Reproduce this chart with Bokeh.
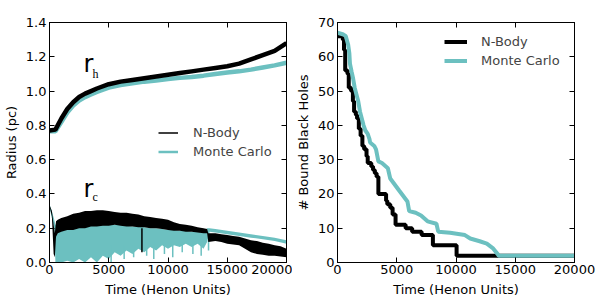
from bokeh.plotting import figure
from bokeh.layouts import row
from bokeh.models import (LinearAxis, FixedTicker, NumeralTickFormatter, Legend,
                          LegendItem, Label, Range1d, CustomJSTickFormatter)
from bokeh.embed import file_html
from bokeh.resources import INLINE

# ---------------- data: left panel (radii) ----------------
# half-mass radius r_h
rh_time = [0, 500, 1000, 1500, 2000, 2500, 3000, 3500, 4000, 5000, 6000, 7000, 8000,
           9000, 10000, 11000, 12000, 13000, 14000, 15000, 16000, 17000, 18000, 19000, 20000]
rh_nbody = [0.77, 0.775, 0.84, 0.895, 0.935, 0.965, 0.985, 1.0, 1.015, 1.04, 1.055, 1.065,
            1.075, 1.085, 1.095, 1.105, 1.115, 1.125, 1.135, 1.145, 1.16, 1.185, 1.21, 1.235, 1.28]
rh_mc = [0.765, 0.765, 0.82, 0.875, 0.915, 0.945, 0.965, 0.98, 0.995, 1.02, 1.035, 1.045,
         1.055, 1.062, 1.07, 1.077, 1.082, 1.09, 1.10, 1.108, 1.115, 1.125, 1.138, 1.15, 1.165]

# core radius r_c (noisy: lower / upper envelope of the scatter)
rc_nb_time = [0, 200, 350, 450, 550, 700, 1000, 1500, 2000, 2500, 3000, 3500, 4000, 4500,
              5000, 5500, 6000, 6500, 7000, 7500, 8000, 8500, 9000, 9500, 10000, 10500,
              11000, 11500, 12000, 12500, 13000, 13300, 13400, 14000, 14500, 15000, 15500,
              16000, 16500, 17000, 17500, 18000, 18500, 19000, 19500, 20000]
rc_nb_low = [0.33, 0.27, 0.05, 0.03, 0.15, 0.17, 0.18, 0.19, 0.19, 0.20, 0.20, 0.21, 0.21,
             0.215, 0.215, 0.22, 0.215, 0.21, 0.21, 0.205, 0.205, 0.20, 0.20, 0.195, 0.19,
             0.185, 0.185, 0.18, 0.18, 0.175, 0.17, 0.17, 0.12, 0.125, 0.12, 0.11, 0.105,
             0.10, 0.08, 0.06, 0.05, 0.045, 0.04, 0.04, 0.035, 0.03]
rc_nb_high = [0.335, 0.30, 0.22, 0.17, 0.24, 0.25, 0.26, 0.27, 0.285, 0.29, 0.30, 0.30, 0.305,
              0.305, 0.30, 0.295, 0.29, 0.29, 0.285, 0.28, 0.27, 0.265, 0.26, 0.255, 0.25,
              0.235, 0.225, 0.22, 0.215, 0.205, 0.20, 0.195, 0.17, 0.17, 0.165, 0.16, 0.155,
              0.15, 0.14, 0.13, 0.125, 0.115, 0.11, 0.10, 0.095, 0.08]

rc_mc_time = [0, 200, 400, 500, 1000, 1500, 2000, 2500, 3000, 3500, 4000, 4500, 5000, 5500,
              6000, 6500, 7000, 7500, 8000, 8500, 9000, 9500, 10000, 10500, 11000, 11500,
              12000, 12500, 13000, 13300, 13500, 14000, 15000, 16000, 17000, 18000, 19000, 20000]
rc_mc_low = [0.32, 0.26, 0.20, 0.0, 0.0, 0.01, 0.0, 0.02, 0.0, 0.03, 0.0, 0.04, 0.02, 0.06,
             0.04, 0.07, 0.05, 0.08, 0.06, 0.09, 0.07, 0.10, 0.08, 0.10, 0.09, 0.11, 0.09,
             0.11, 0.08, 0.12, 0.18, 0.175, 0.165, 0.155, 0.145, 0.135, 0.125, 0.11]
rc_mc_high = [0.34, 0.30, 0.25, 0.22, 0.21, 0.21, 0.21, 0.215, 0.215, 0.22, 0.22, 0.22, 0.22,
              0.22, 0.22, 0.215, 0.21, 0.21, 0.205, 0.20, 0.20, 0.195, 0.19, 0.19, 0.185,
              0.185, 0.18, 0.18, 0.175, 0.20, 0.20, 0.195, 0.185, 0.175, 0.165, 0.155, 0.145, 0.13]

# deep downward spikes of the Monte Carlo core radius
mc_spike_time = [5200, 6300, 7100, 8200, 8800, 9700, 10400, 11200, 12100, 12800, 13420]
mc_spike_low = [0.0, 0.02, 0.03, 0.04, 0.02, 0.05, 0.03, 0.06, 0.05, 0.04, 0.07]
mc_spike_high = [0.10, 0.10, 0.10, 0.10, 0.12, 0.12, 0.12, 0.12, 0.12, 0.12, 0.18]
nb_spike_time = [7800]
nb_spike_low = [0.06]
nb_spike_high = [0.20]

# ---------------- data: right panel (bound black holes) ----------------
bh_nb_time = [0, 450, 550, 650, 850, 950, 1150, 1300, 1400, 1550, 1650, 1800, 1950, 2100,
              2250, 2450, 2550, 2850, 3000, 3150, 3300, 3450, 4100, 4200, 4450, 4650, 4900,
              5750, 6300, 7100, 8050, 10050, 20000]
bh_nb_count = [66, 65, 62, 56, 55, 51, 50, 47, 44, 43, 42, 39, 37, 34, 33, 31, 29, 28, 27,
               26, 25, 20, 18, 17, 16, 14, 11, 10, 9, 8, 5, 2, 2]
bh_mc_time = [0, 500, 700, 900, 1000, 1050, 1200, 1300, 1450, 1600, 1750, 1900, 2050, 2200,
              2350, 2550, 2700, 2750, 3100, 3250, 3450, 3750, 4250, 4450, 5200, 5900, 6050,
              6600, 7050, 7600, 8350, 8500, 9500, 10750, 11200, 12000, 12600, 13100, 13550,
              13600, 20000]
bh_mc_count = [67, 66.5, 66, 63.5, 61, 58, 55.5, 54, 51, 49, 47, 44, 42, 40, 38.5, 37.5, 36,
               35, 34, 33, 29.5, 29, 27.5, 24.5, 21, 17.8, 15, 14.5, 13.7, 12, 11.3, 9, 8.7,
               8, 7, 6.2, 5.5, 4.2, 2.3, 2, 2]

x_ticks = [0, 5000, 10000, 15000, 20000]
rad_ticks = [0.0, 0.2, 0.4, 0.6, 0.8, 1.0, 1.2, 1.4]
bh_ticks = [0, 10, 20, 30, 40, 50, 60, 70]

TEAL = "#6cc0c0"
FONT = "DejaVu Sans"
FS = "13px"


def base_figure(y_max, y_ticks, y_fmt, y_label, border_left, border_right):
    p = figure(frame_width=237, frame_height=240, x_range=Range1d(0, 20000),
               y_range=Range1d(0, y_max), output_backend="svg", toolbar_location=None,
               min_border_left=border_left, min_border_right=border_right,
               min_border_top=22, min_border_bottom=0,
               x_axis_label="Time (Henon Units)", y_axis_label=y_label)
    p.grid.visible = False
    p.outline_line_color = "black"
    p.outline_line_alpha = 1.0
    p.outline_line_width = 1
    p.background_fill_color = "white"
    p.border_fill_color = "white"
    for ax, ticks in ((p.xaxis[0], x_ticks), (p.yaxis[0], y_ticks)):
        ax.ticker = FixedTicker(ticks=ticks)
        ax.major_tick_in = 5
        ax.major_tick_out = 0
        ax.minor_tick_line_color = None
        ax.axis_line_color = "black"
        ax.major_tick_line_color = "black"
        ax.major_label_text_font = FONT
        ax.major_label_text_font_size = FS
        ax.major_label_text_color = "black"
        ax.axis_label_text_font = FONT
        ax.axis_label_text_font_size = FS
        ax.axis_label_text_font_style = "normal"
        ax.axis_label_text_color = "black"
    p.xaxis[0].major_label_standoff = 2
    p.xaxis[0].axis_label_standoff = 5
    p.yaxis[0].major_label_standoff = 3
    p.yaxis[0].axis_label_standoff = 4
    p.yaxis[0].formatter = NumeralTickFormatter(format=y_fmt)
    for loc, ticks in (("above", x_ticks), ("right", y_ticks)):
        ax = LinearAxis(ticker=FixedTicker(ticks=ticks), major_tick_in=5, major_tick_out=0,
                        minor_tick_line_color=None, major_label_standoff=0,
                        formatter=CustomJSTickFormatter(code="return ''"),
                        major_label_text_font_size="2px", axis_line_color="black")
        p.add_layout(ax, loc)
    return p


# ---------------- left panel ----------------
p1 = base_figure(1.4, rad_ticks, "0.0", "Radius (pc)", 0, 6)

p1.varea(x=rc_mc_time, y1=rc_mc_low, y2=rc_mc_high, fill_color=TEAL)
p1.segment(x0=mc_spike_time, y0=mc_spike_low, x1=mc_spike_time, y1=mc_spike_high,
           line_color=TEAL, line_width=1.5)
p1.varea(x=rc_nb_time, y1=rc_nb_low, y2=rc_nb_high, fill_color="black")
p1.segment(x0=nb_spike_time, y0=nb_spike_low, x1=nb_spike_time, y1=nb_spike_high,
           line_color="black", line_width=1.5)

p1.line(rh_time, rh_mc, line_color=TEAL, line_width=4.5)
p1.line(rh_time, rh_nbody, line_color="black", line_width=4.5)
leg_nb = p1.line(rh_time, rh_nbody, line_color="black", line_width=1.5)
leg_mc = p1.line(rh_time, rh_mc, line_color=TEAL, line_width=2.5)
leg_nb.level = "underlay"
leg_mc.level = "underlay"

legend1 = Legend(items=[LegendItem(label="N-Body", renderers=[leg_nb]),
                        LegendItem(label="Monte Carlo", renderers=[leg_mc])],
                 location=(109, 101), border_line_color=None, background_fill_alpha=0,
                 padding=0, margin=0, spacing=0, label_height=19, glyph_height=19,
                 glyph_width=20, label_standoff=15, label_text_font=FONT,
                 label_text_font_size=FS)
p1.add_layout(legend1)

for x, y, txt, size, font in ((2870, 1.157, "r", "24px", FONT),
                              (3630, 1.099, "h", "12px", "Liberation Serif"),
                              (2870, 0.428, "r", "24px", FONT),
                              (3630, 0.385, "c", "12px", "Liberation Serif")):
    p1.add_layout(Label(x=x, y=y, text=txt, text_font_size=size, text_font=font,
                        text_baseline="alphabetic", text_color="black"))

# ---------------- right panel ----------------
p2 = base_figure(70, bh_ticks, "0", "# Bound Black Holes", 0, 24)
r_nb = p2.step(bh_nb_time, bh_nb_count, mode="after", line_color="black", line_width=4)
r_mc = p2.line(bh_mc_time, bh_mc_count, line_color=TEAL, line_width=4)

legend2 = Legend(items=[LegendItem(label="N-Body", renderers=[r_nb]),
                        LegendItem(label="Monte Carlo", renderers=[r_mc])],
                 location=(107, 192), border_line_color=None, background_fill_alpha=0,
                 padding=0, margin=0, spacing=0, label_height=19, glyph_height=19,
                 glyph_width=23, label_standoff=14, label_text_font=FONT,
                 label_text_font_size=FS)
p2.add_layout(legend2)

layout = row(p1, p2)
open("out.html", "w").write(file_html(layout, INLINE))
